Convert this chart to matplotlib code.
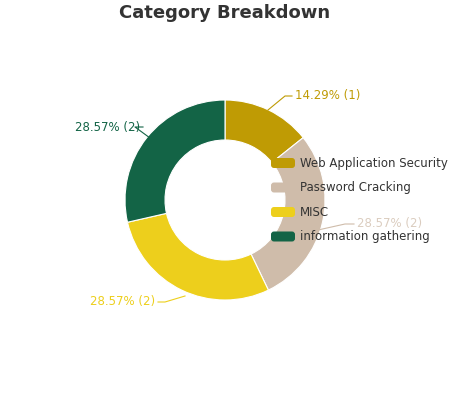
import matplotlib
matplotlib.use("Agg")
import matplotlib.pyplot as plt
from matplotlib.patches import FancyBboxPatch

categories = ["Web Application Security", "Password Cracking", "MISC", "information gathering"]
counts = [1, 2, 2, 2]
colors = ["#BF9B04", "#CFBCAA", "#EDCF1C", "#136446"]

fig = plt.figure(figsize=(4.5, 4), dpi=100)
ax = fig.add_axes([0, 0, 1, 1])
ax.set_xlim(0, 450); ax.set_ylim(0, 400); ax.axis("off")

cx, cy, R = 225, 200, 100
ax.pie(counts, colors=colors, startangle=90, counterclock=False, center=(cx, cy),
       radius=R, wedgeprops=dict(width=40, edgecolor="white", linewidth=0.8), frame=True)
ax.set_xlim(0, 450); ax.set_ylim(0, 400); ax.set_aspect("equal"); ax.axis("off")

total = sum(counts)
labels = [f"{c/total*100:.2f}% ({c})" for c in counts]
# label positions (pixel coords, y down)
anchors = [((268, 110), (285, 96), (295, 96), "left"),
           ((318, 230), (345, 224), (357, 224), "left"),
           ((185, 296), (165, 302), (155, 302), "right"),
           ((150, 138), (135, 127), (140, 127), "right")]
for (p, q, t, ha), lab, col in zip(anchors, labels, colors):
    ax.plot([p[0], q[0], t[0] - (3 if ha == "left" else -3)], [400 - p[1], 400 - q[1], 400 - t[1]],
            color=col, lw=0.8)
    ax.text(t[0], 400 - t[1], lab, color=col, fontsize=8.5, ha=ha, va="center",
            alpha=0.75 if col == colors[1] else 1)

for i, (cat, col) in enumerate(zip(categories, colors)):
    y = 400 - (163 + i * 24.5)
    ax.add_patch(FancyBboxPatch((271, y - 5), 24, 10, boxstyle="round,pad=0,rounding_size=3",
                                fc=col, ec="none"))
    ax.text(300, y, cat, fontsize=8.5, va="center", color="#333333")

fig.text(0.5, 1 - 13 / 400, "Category Breakdown", ha="center", va="center",
         fontsize=13, fontweight="bold", color="#333333")
fig.savefig("out.png", dpi=100)
